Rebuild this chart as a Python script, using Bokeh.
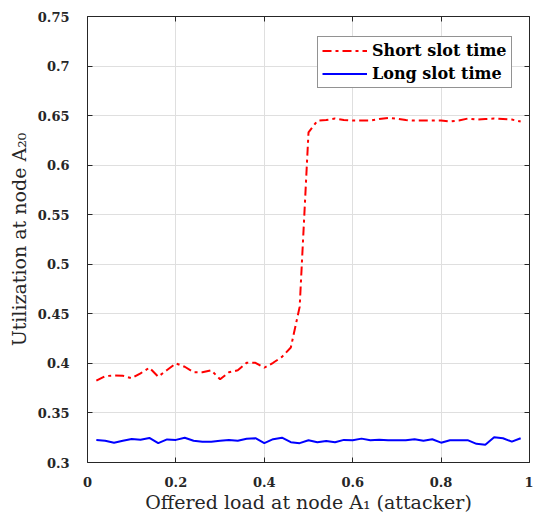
from bokeh.plotting import figure
from bokeh.models import (LinearAxis, Legend, LegendItem, FixedTicker, Range1d,
                          CustomJSTickFormatter)
from bokeh.embed import file_html
from bokeh.resources import INLINE

# ---- data ----
load = [0.02, 0.04, 0.06, 0.08, 0.10, 0.12, 0.14, 0.16, 0.18, 0.20,
        0.22, 0.24, 0.26, 0.28, 0.30, 0.32, 0.34, 0.36, 0.38, 0.40,
        0.42, 0.44, 0.46, 0.48, 0.50, 0.52, 0.54, 0.56, 0.58, 0.60,
        0.62, 0.64, 0.66, 0.68, 0.70, 0.72, 0.74, 0.76, 0.78, 0.80,
        0.82, 0.84, 0.86, 0.88, 0.90, 0.92, 0.94, 0.96, 0.98]

short_slot = [0.3825, 0.3872, 0.3878, 0.3875, 0.3850, 0.3900, 0.3956, 0.3866, 0.3933, 0.4000,
              0.3966, 0.3910, 0.3910, 0.3930, 0.3840, 0.3910, 0.3930, 0.4006, 0.4006, 0.3956,
              0.4006, 0.4066, 0.4160, 0.4570, 0.6330, 0.6448, 0.6455, 0.6470, 0.6455, 0.6450,
              0.6450, 0.6450, 0.6466, 0.6477, 0.6470, 0.6455, 0.6450, 0.6450, 0.6450, 0.6450,
              0.6440, 0.6450, 0.6470, 0.6460, 0.6466, 0.6470, 0.6465, 0.6460, 0.6440]

long_slot = [0.3228, 0.3220, 0.3200, 0.3220, 0.3238, 0.3230, 0.3248, 0.3195, 0.3233, 0.3228,
             0.3250, 0.3220, 0.3210, 0.3210, 0.3220, 0.3228, 0.3220, 0.3240, 0.3245, 0.3195,
             0.3235, 0.3250, 0.3205, 0.3195, 0.3225, 0.3205, 0.3218, 0.3205, 0.3228, 0.3225,
             0.3241, 0.3225, 0.3230, 0.3225, 0.3225, 0.3225, 0.3235, 0.3220, 0.3235, 0.3200,
             0.3225, 0.3225, 0.3225, 0.3188, 0.3180, 0.3255, 0.3245, 0.3210, 0.3245]

series_names = ["Short slot time", "Long slot time"]

x_ticks = [0, 0.2, 0.4, 0.6, 0.8, 1]
x_tick_labels = ["0", "0.2", "0.4", "0.6", "0.8", "1"]
y_ticks = [0.3, 0.35, 0.4, 0.45, 0.5, 0.55, 0.6, 0.65, 0.7, 0.75]
y_tick_labels = ["0.3", "0.35", "0.4", "0.45", "0.5", "0.55", "0.6", "0.65", "0.7", "0.75"]

x_label = "Offered load at node A\u2081 (attacker)"
y_label = "Utilization at node A\u2082\u2080"

AX = "#262626"
GRID = "#dfdfdf"

p = figure(width=533, height=515, output_backend="svg", toolbar_location=None,
           x_range=Range1d(0, 1), y_range=Range1d(0.3, 0.75),
           min_border_left=87, min_border_right=4, min_border_top=16, min_border_bottom=53,
           outline_line_color=None, background_fill_color="white",
           border_fill_color="white")

r_short = p.line(load, short_slot, line_color="#ff0000", line_width=2,
                 line_dash="9 4 3 4")
r_long = p.line(load, long_slot, line_color="#0000ff", line_width=2)

tick_font = "DejaVu Serif"

def style_axis(ax):
    ax.axis_line_color = AX
    ax.axis_line_width = 1
    ax.major_tick_line_color = AX
    ax.major_tick_in = 5
    ax.major_tick_out = 0
    ax.minor_tick_in = 0
    ax.minor_tick_out = 0
    ax.minor_tick_line_color = None

# bottom axis
xa = p.xaxis[0]
xa.ticker = FixedTicker(ticks=x_ticks, minor_ticks=[])
xa.major_label_overrides = dict(zip(x_ticks, x_tick_labels))
style_axis(xa)
xa.major_label_text_font = tick_font
xa.major_label_text_font_style = "bold"
xa.major_label_text_font_size = "13px"
xa.major_label_text_color = AX
xa.major_label_standoff = 14
xa.axis_label = x_label
xa.axis_label_text_font = "DejaVu Serif"
xa.axis_label_text_font_style = "normal"
xa.axis_label_text_font_size = "19px"
xa.axis_label_text_color = AX
xa.axis_label_standoff = 1

# left axis
ya = p.yaxis[0]
ya.ticker = FixedTicker(ticks=y_ticks, minor_ticks=[])
ya.major_label_overrides = dict(zip(y_ticks, y_tick_labels))
style_axis(ya)
ya.major_label_text_font = tick_font
ya.major_label_text_font_style = "bold"
ya.major_label_text_font_size = "13px"
ya.major_label_text_color = AX
ya.major_label_standoff = 18
ya.axis_label = y_label
ya.axis_label_text_font = "DejaVu Serif"
ya.axis_label_text_font_style = "normal"
ya.axis_label_text_font_size = "19px"
ya.axis_label_text_color = AX
ya.axis_label_standoff = 5

# box: top and right axes with inward ticks, no labels
blank = CustomJSTickFormatter(code="return ''")
top = LinearAxis(ticker=FixedTicker(ticks=x_ticks, minor_ticks=[]), formatter=blank,
                 major_label_standoff=0, major_label_text_font_size="1px")
style_axis(top)
p.add_layout(top, "above")
right = LinearAxis(ticker=FixedTicker(ticks=y_ticks, minor_ticks=[]), formatter=blank,
                   major_label_standoff=0, major_label_text_font_size="1px")
style_axis(right)
p.add_layout(right, "right")

# grid
p.xgrid.ticker = FixedTicker(ticks=x_ticks)
p.ygrid.ticker = FixedTicker(ticks=y_ticks)
p.grid.grid_line_color = GRID
p.grid.grid_line_width = 1

legend = Legend(items=[LegendItem(label=series_names[0], renderers=[r_short]),
                       LegendItem(label=series_names[1], renderers=[r_long])],
                location=(230, 374), orientation="vertical",
                border_line_color=AX, border_line_width=1,
                background_fill_color="white", background_fill_alpha=1,
                label_text_font="DejaVu Serif", label_text_font_style="bold",
                label_text_font_size="16px", label_text_color="black",
                glyph_width=45, glyph_height=17, label_height=17,
                spacing=4, padding=4, label_standoff=5, margin=0)
p.add_layout(legend)

open("out.html", "w").write(file_html(p, INLINE))
